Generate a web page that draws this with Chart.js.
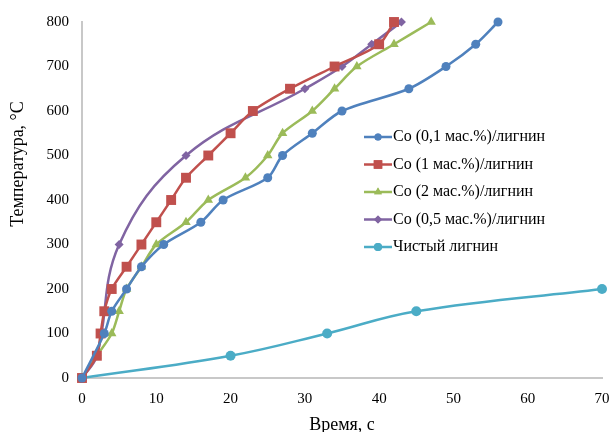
<!DOCTYPE html>
<html>
<head>
<meta charset="utf-8">
<script src="https://cdn.jsdelivr.net/npm/chart.js@4/dist/chart.umd.min.js"></script>
<style>
  html, body { margin: 0; padding: 0; background: #fff; }
  #wrap { width: 611px; height: 432px; }
</style>
</head>
<body>
<div id="wrap"><canvas id="myChart" width="611" height="432"></canvas></div>
<script>
// time, s / temperature, °C
const co01Time = [0, 3, 4, 6, 8, 11, 16, 19, 25, 27, 31, 35, 44, 49, 53, 56]
const co01Temp = [0, 100, 150, 200, 250, 300, 350, 400, 450, 500, 550, 600, 650, 700, 750, 800]

const co1Time = [0, 2, 2.5, 3, 4, 6, 8, 10, 12, 14, 17, 20, 23, 28, 34, 40, 42]
const co1Temp = [0, 50, 100, 150, 200, 250, 300, 350, 400, 450, 500, 550, 600, 650, 700, 750, 800]

const co2Time = [0, 2, 4, 5, 6, 8, 10, 14, 17, 22, 25, 27, 31, 34, 37, 42, 47]
const co2Temp = [0, 50, 100, 150, 200, 250, 300, 350, 400, 450, 500, 550, 600, 650, 700, 750, 800]

const co05Time = [0, 2, 5, 14, 30, 35, 39, 43]
const co05Temp = [0, 50, 300, 500, 650, 700, 750, 800]

const ligninTime = [0, 20, 33, 45, 70]
const ligninTemp = [0, 50, 100, 150, 200]

const seriesLabels = [
    'Co (0,1 мас.%)/лигнин',
    'Co (1 мас.%)/лигнин',
    'Co (2 мас.%)/лигнин',
    'Co (0,5 мас.%)/лигнин',
    'Чистый лигнин',
]
const xTitle = 'Время, с'
const yTitle = 'Температура, °С'

const colors = {
    blue: '#4F81BD',
    red: '#C0504D',
    green: '#9BBB59',
    purple: '#8064A2',
    cyan: '#4BACC6',
}
const serif = "'Liberation Serif', 'Times New Roman', serif"

function toPoints(xs, ys) {
    return xs.map((x, i) => ({ x: x, y: ys[i] }))
}

function series(label, xs, ys, color, style, radius, tension, legendRadius) {
    return {
        label: label,
        data: toPoints(xs, ys),
        borderColor: color,
        backgroundColor: color,
        borderWidth: 2.5,
        pointStyle: style,
        pointRadius: radius,
        pointBorderWidth: 0,
        pointBackgroundColor: color,
        tension: tension,
        clip: false,
        legendRadius: legendRadius,
    }
}

// legend + axis titles drawn in fixed spots like the original
const extras = {
    id: 'extras',
    afterDraw(chart) {
        const ctx = chart.ctx
        ctx.save()
        ctx.textBaseline = 'middle'

        ctx.font = '16px ' + serif
        chart.data.datasets.forEach((ds, i) => {
            const y = 137 + i * 27.5
            ctx.strokeStyle = ds.borderColor
            ctx.lineWidth = 2.5
            ctx.beginPath()
            ctx.moveTo(364, y)
            ctx.lineTo(392, y)
            ctx.stroke()
            ctx.fillStyle = ds.borderColor
            Chart.helpers.drawPoint(ctx, { pointStyle: ds.pointStyle, radius: ds.legendRadius, borderWidth: 0 }, 378, y)
            ctx.fill()
            ctx.fillStyle = '#000'
            ctx.textAlign = 'left'
            ctx.fillText(ds.label, 393, y)
        })

        const area = chart.chartArea
        ctx.font = '18px ' + serif
        ctx.fillStyle = '#000'
        ctx.textAlign = 'center'
        ctx.fillText(xTitle, (area.left + area.right) / 2, 425)

        ctx.translate(18, 164)
        ctx.rotate(-Math.PI / 2)
        ctx.fillText(yTitle, 0, 0)
        ctx.restore()
    },
}

const ctx = document.getElementById('myChart').getContext('2d')
const myChart = new Chart(ctx, {
    type: 'line',
    data: {
        datasets: [
            series(seriesLabels[0], co01Time, co01Temp, colors.blue, 'circle', 4.5, 0.3, 3.5),
            series(seriesLabels[1], co1Time, co1Temp, colors.red, 'rect', 7, 0.3, 6),
            series(seriesLabels[2], co2Time, co2Temp, colors.green, 'triangle', 5.5, 0.3, 4.5),
            series(seriesLabels[3], co05Time, co05Temp, colors.purple, 'rectRot', 4.5, 0.4, 4),
            series(seriesLabels[4], ligninTime, ligninTemp, colors.cyan, 'circle', 5, 0.4, 4),
        ],
    },
    options: {
        responsive: false,
        animation: false,
        layout: { padding: { left: 0, right: 9, top: 22, bottom: 0 } },
        plugins: {
            legend: { display: false },
            tooltip: { enabled: false },
        },
        scales: {
            x: {
                type: 'linear',
                min: 0,
                max: 70,
                ticks: { stepSize: 10, color: '#000', font: { family: serif, size: 15 }, padding: 12 },
                grid: { display: false, drawTicks: false },
                border: { color: '#C8C8C8', width: 2 },
                afterFit(scale) {
                    scale.height = 54
                    scale.paddingLeft = 0
                    scale.paddingRight = 0
                },
            },
            y: {
                min: 0,
                max: 800,
                ticks: { stepSize: 100, color: '#000', font: { family: serif, size: 15 }, padding: 13 },
                grid: { display: false, drawTicks: false },
                border: { color: '#C8C8C8', width: 2 },
                afterFit(scale) {
                    scale.width = 82
                    scale.paddingTop = 0
                    scale.paddingBottom = 0
                },
            },
        },
    },
    plugins: [extras],
})
</script>
</body>
</html>
